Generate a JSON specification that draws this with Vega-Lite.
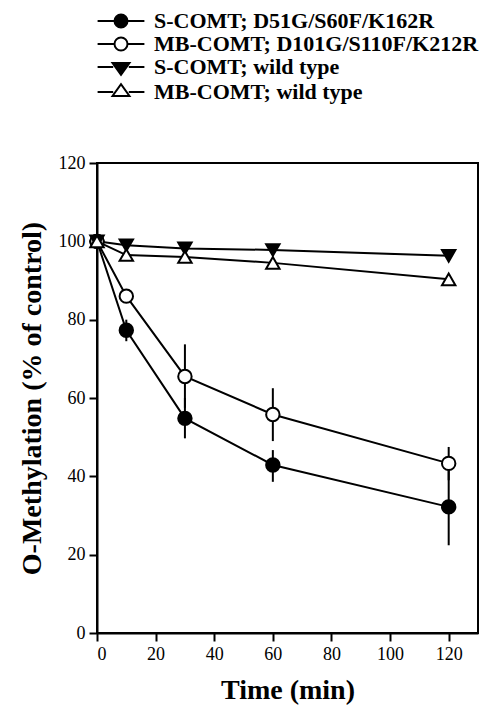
{
  "$schema": "https://vega.github.io/schema/vega-lite/v6.json",
  "width": 381,
  "height": 470,
  "autosize": {"type": "none"},
  "padding": {"left": 97, "top": 163, "right": 2, "bottom": 73},
  "background": "white",
  "config": {
    "view": {"stroke": "black", "strokeWidth": 2},
    "font": "Liberation Serif",
    "axis": {
      "grid": false,
      "labelFont": "Liberation Serif",
      "labelFontSize": 18,
      "labelColor": "black",
      "titleFont": "Liberation Serif",
      "titleFontSize": 28,
      "titleFontWeight": "bold",
      "titleColor": "black",
      "domainColor": "black",
      "domainWidth": 2,
      "tickColor": "black",
      "tickWidth": 2
    },
    "legend": {
      "labelFont": "Liberation Serif",
      "labelFontWeight": "bold",
      "labelFontSize": 22,
      "labelColor": "black",
      "labelLimit": 0
    }
  },
  "data": {
    "values": [
      {"series": "S-COMT; D51G/S60F/K162R", "time": 0, "value": 100},
      {"series": "S-COMT; D51G/S60F/K162R", "time": 10, "value": 77.3, "lo": 74.5, "hi": 80},
      {"series": "S-COMT; D51G/S60F/K162R", "time": 30, "value": 54.8, "lo": 49.7, "hi": 60},
      {"series": "S-COMT; D51G/S60F/K162R", "time": 60, "value": 42.9, "lo": 38.6, "hi": 46.7},
      {"series": "S-COMT; D51G/S60F/K162R", "time": 120, "value": 32.2, "lo": 22.4, "hi": 42},
      {"series": "MB-COMT; D101G/S110F/K212R", "time": 0, "value": 100},
      {"series": "MB-COMT; D101G/S110F/K212R", "time": 10, "value": 86},
      {"series": "MB-COMT; D101G/S110F/K212R", "time": 30, "value": 65.5, "lo": 57.5, "hi": 73.7},
      {"series": "MB-COMT; D101G/S110F/K212R", "time": 60, "value": 55.8, "lo": 49, "hi": 62.5},
      {"series": "MB-COMT; D101G/S110F/K212R", "time": 120, "value": 43.3, "lo": 39, "hi": 47.5},
      {"series": "S-COMT; wild type", "time": 0, "value": 100},
      {"series": "S-COMT; wild type", "time": 10, "value": 99},
      {"series": "S-COMT; wild type", "time": 30, "value": 98.2},
      {"series": "S-COMT; wild type", "time": 60, "value": 97.8},
      {"series": "S-COMT; wild type", "time": 120, "value": 96.3},
      {"series": "MB-COMT; wild type", "time": 0, "value": 100},
      {"series": "MB-COMT; wild type", "time": 10, "value": 96.5},
      {"series": "MB-COMT; wild type", "time": 30, "value": 96},
      {"series": "MB-COMT; wild type", "time": 60, "value": 94.5},
      {"series": "MB-COMT; wild type", "time": 120, "value": 90.3}
    ]
  },
  "layer": [
    {
      "mark": {"type": "line", "color": "black", "strokeWidth": 2},
      "encoding": {
        "x": {"field": "time", "type": "quantitative", "scale": {"domain": [0, 130], "nice": false}, "axis": null},
        "y": {"field": "value", "type": "quantitative", "scale": {"domain": [0, 120], "nice": false}, "axis": null},
        "detail": {"field": "series"}
      }
    },
    {
      "transform": [{"filter": "datum.lo != null"}],
      "mark": {"type": "rule", "color": "black", "strokeWidth": 2},
      "encoding": {
        "x": {"field": "time", "type": "quantitative", "scale": {"domain": [0, 130], "nice": false}, "axis": null},
        "y": {"field": "lo", "type": "quantitative", "scale": {"domain": [0, 120], "nice": false}, "axis": null},
        "y2": {"field": "hi"}
      }
    },
    {
      "mark": {"type": "point", "filled": true, "stroke": "black", "strokeWidth": 2, "size": 180, "opacity": 1},
      "encoding": {
        "x": {"field": "time", "type": "quantitative", "title": "Time (min)", "scale": {"domain": [0, 130], "nice": false},
              "axis": {"orient": "bottom", "values": [0, 20, 40, 60, 80, 100, 120], "ticks": true, "tickSize": 8, "labelPadding": 4, "titlePadding": 13}},
        "y": {"field": "value", "type": "quantitative", "title": "O-Methylation  (% of control)", "scale": {"domain": [0, 120], "nice": false},
              "axis": {"orient": "left", "values": [0, 20, 40, 60, 80, 100, 120], "ticks": true, "tickSize": 8, "labelPadding": 4, "titlePadding": 12}},
        "shape": {"field": "series", "type": "nominal", "legend": null,
                  "scale": {"domain": ["S-COMT; D51G/S60F/K162R", "MB-COMT; D101G/S110F/K212R", "S-COMT; wild type", "MB-COMT; wild type"],
                            "range": ["circle", "circle", "triangle-down", "triangle-up"]}},
        "fill": {"field": "series", "type": "nominal", "legend": null,
                 "scale": {"domain": ["S-COMT; D51G/S60F/K162R", "MB-COMT; D101G/S110F/K212R", "S-COMT; wild type", "MB-COMT; wild type"],
                           "range": ["black", "white", "black", "white"]}}
      }
    },
    {
      "mark": {"type": "point", "filled": true, "stroke": "black", "strokeWidth": 2, "size": 180, "opacity": 0},
      "encoding": {
        "x": {"field": "time", "type": "quantitative", "scale": {"domain": [0, 130], "nice": false}, "axis": null},
        "y": {"field": "value", "type": "quantitative", "scale": {"domain": [0, 120], "nice": false}, "axis": null},
        "shape": {"field": "series", "type": "nominal",
                  "scale": {"domain": ["S-COMT; D51G/S60F/K162R", "MB-COMT; D101G/S110F/K212R", "S-COMT; wild type", "MB-COMT; wild type"],
                            "range": [
                              "M-3.6,0H-1M1,0H3.6M-1,0A1,1,0,1,0,1,0A1,1,0,1,0,-1,0Z",
                              "M-3.6,0H-1M1,0H3.6M-1,0A1,1,0,1,0,1,0A1,1,0,1,0,-1,0Z",
                              "M-3.6,0H-1.2M1.2,0H3.6M-1.3,-0.6L1.3,-0.6L0,1.2Z",
                              "M-3.6,0H-1.2M1.2,0H3.6M-1.3,0.6L1.3,0.6L0,-1.2Z"
                            ]},
                  "legend": {"title": null, "orient": "none", "legendX": 13, "legendY": -153, "padding": 0,
                             "symbolSize": 169, "symbolOpacity": 1, "symbolStrokeColor": "black", "symbolStrokeWidth": 2,
                             "labelOffset": 22, "rowPadding": 1,
                             "encode": {"symbols": {"update": {"stroke": {"value": "black"}, "strokeWidth": {"value": 2}, "opacity": {"value": 1}, "strokeOpacity": {"value": 1}}}}}},
        "fill": {"field": "series", "type": "nominal",
                 "scale": {"domain": ["S-COMT; D51G/S60F/K162R", "MB-COMT; D101G/S110F/K212R", "S-COMT; wild type", "MB-COMT; wild type"],
                           "range": ["black", "white", "black", "white"]},
                 "legend": {"title": null, "orient": "none", "legendX": 13, "legendY": -153, "padding": 0,
                            "symbolSize": 169, "symbolOpacity": 1, "symbolStrokeColor": "black", "symbolStrokeWidth": 2,
                            "labelOffset": 22, "rowPadding": 1,
                            "encode": {"symbols": {"update": {"stroke": {"value": "black"}, "strokeWidth": {"value": 2}, "opacity": {"value": 1}, "strokeOpacity": {"value": 1}}}}}}
      }
    }
  ],
  "resolve": {
    "scale": {"x": "independent", "y": "independent", "shape": "independent", "fill": "independent"},
    "axis": {"x": "independent", "y": "independent"}
  }
}
